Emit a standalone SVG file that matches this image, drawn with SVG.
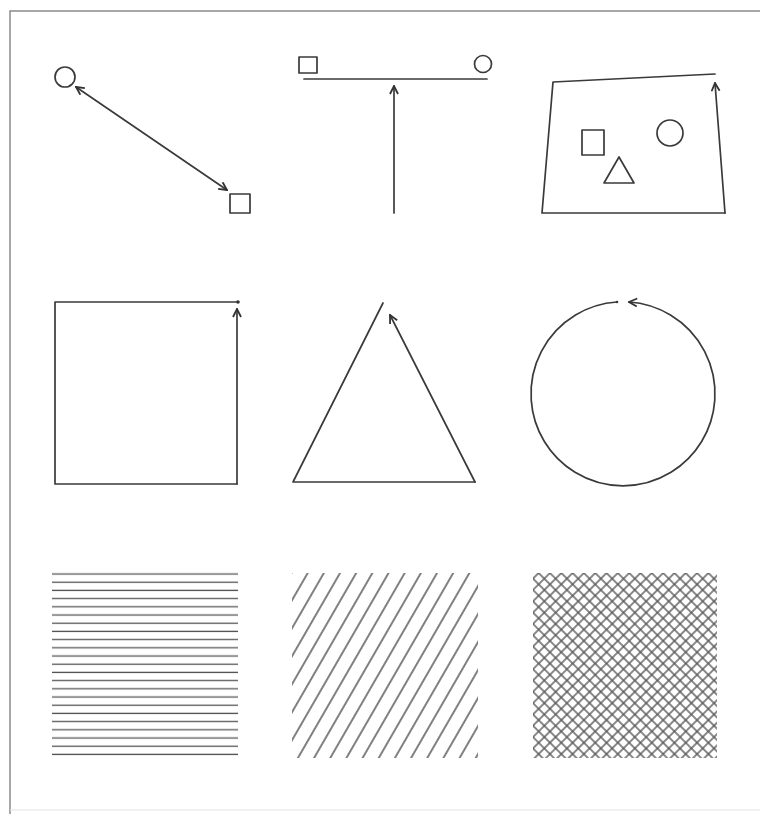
<svg xmlns="http://www.w3.org/2000/svg" width="760" height="814" viewBox="0 0 760 814">
<style>
.ln{fill:none;stroke:#3a3a3a;stroke-width:1.7;stroke-linecap:round;stroke-linejoin:round}
.frame{fill:none;stroke:#8a8a8a;stroke-width:1.5}
</style>
<defs>
<marker id="ah" viewBox="0 0 10 10" refX="9" refY="5" markerWidth="10" markerHeight="10" markerUnits="userSpaceOnUse" orient="auto-start-reverse">
<path d="M1,1 L9,5 L1,9" fill="none" stroke="#333" stroke-width="1.8"/>
</marker>
<pattern id="hz" patternUnits="userSpaceOnUse" x="0" y="570" width="20" height="8.2">
<line x1="0" y1="4" x2="20" y2="4" stroke="#555" stroke-width="1.3"/>
</pattern>
<pattern id="dg" patternUnits="userSpaceOnUse" width="14" height="20" patternTransform="rotate(30)">
<line x1="7" y1="0" x2="7" y2="20" stroke="#4a4a4a" stroke-width="1.4"/>
</pattern>
<pattern id="xh" patternUnits="userSpaceOnUse" width="8" height="8" patternTransform="translate(533 573) rotate(45)">
<line x1="4" y1="0" x2="4" y2="8" stroke="#555" stroke-width="1.4"/>
<line x1="0" y1="4" x2="8" y2="4" stroke="#555" stroke-width="1.4"/>
</pattern>
</defs>
<rect width="760" height="814" fill="#fff"/>
<g id="frame">
<path class="frame" d="M10,814 L10,11 L760,11"/>
<line x1="10" y1="810" x2="760" y2="810" stroke="#e2e2e2" stroke-width="1"/>
</g>

<g id="panel1">
<circle class="ln" cx="65" cy="77" r="10" stroke="#666"/>
<rect class="ln" x="230" y="194" width="20" height="19" stroke="#666"/>
</g>
<g id="panel2">
<rect class="ln" x="299" y="57" width="18" height="16" stroke="#666"/>
<circle class="ln" cx="483" cy="64" r="8.5" stroke="#666"/>
<line class="ln" x1="304" y1="79" x2="487" y2="79"/>
</g>
<g id="panel3">
<path class="ln" d="M715,74 L553,82 L542,213 L725,213"/>
<rect class="ln" x="582" y="130" width="22" height="25" stroke="#666"/>
<circle class="ln" cx="670" cy="133" r="13" stroke="#666"/>
<path class="ln" d="M619,157 L604,183 L634,183 Z" stroke="#555"/>
</g>
<g id="panel4">
<path class="ln" d="M238,302 L55,302 L55,484 L237,484"/>
<circle cx="238" cy="302" r="1.8" fill="#333"/>
</g>
<g id="panel5">
<path class="ln" d="M383,303 L293,482 L475,482"/>
</g>
<g id="panel6">
<circle cx="617" cy="302" r="1.3" fill="#333"/>
</g>
<g id="panel7">
<rect x="52" y="572" width="186" height="186" fill="url(#hz)"/>
</g>
<g id="panel8">
<rect x="292" y="573" width="186" height="185" fill="url(#dg)"/>
</g>
<g id="panel9">
<rect x="533" y="573" width="184" height="185" fill="url(#xh)"/>
</g>

<g id="connectors">
<line class="ln" x1="76" y1="87" x2="227" y2="190" marker-start="url(#ah)" marker-end="url(#ah)"/>
<line class="ln" x1="394" y1="213" x2="394" y2="86" marker-end="url(#ah)"/>
<line class="ln" x1="725" y1="213" x2="715" y2="83" marker-end="url(#ah)"/>
<line class="ln" x1="237" y1="484" x2="237" y2="309" marker-end="url(#ah)"/>
<line class="ln" x1="475" y1="482" x2="390" y2="315" marker-end="url(#ah)"/>
<path class="ln" d="M617,302 A92,92 0 1,0 629,302" marker-end="url(#ah)"/>
</g>
</svg>
